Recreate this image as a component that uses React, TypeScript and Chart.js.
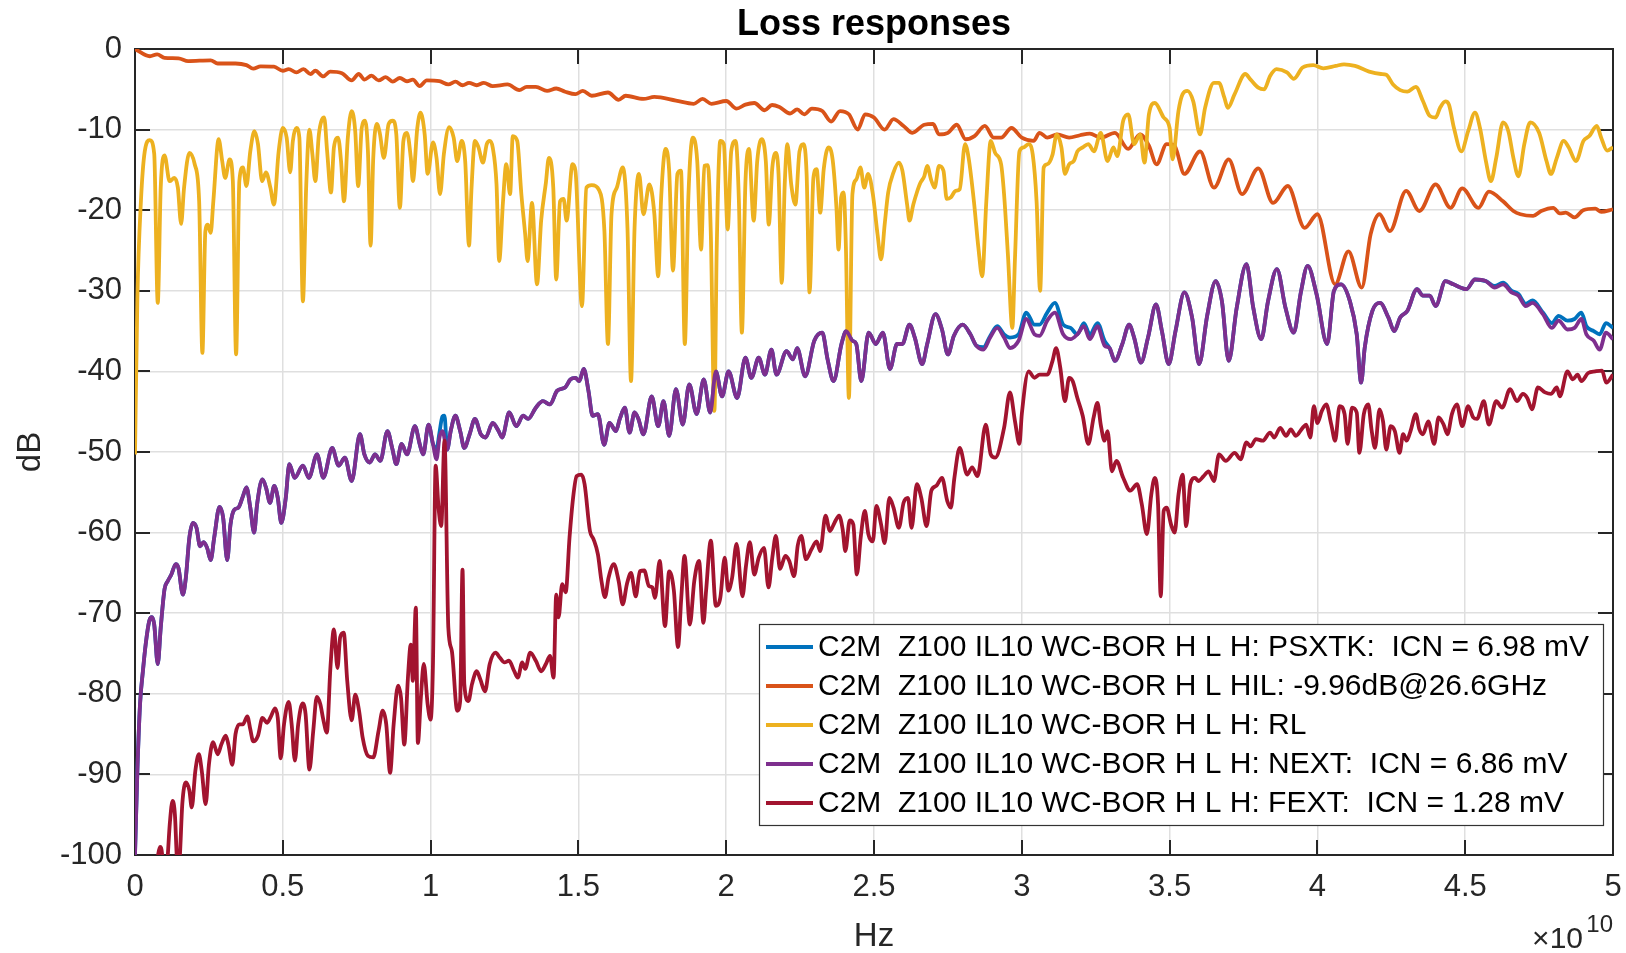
import React, { useEffect, useRef } from "react";
import { Chart, registerables } from "chart.js";

Chart.register(...registerables);

// x values are in units of 1e10 Hz, y values in dB
const xTicks = [0, 0.5, 1, 1.5, 2, 2.5, 3, 3.5, 4, 4.5, 5];
const yTicks = [-100, -90, -80, -70, -60, -50, -40, -30, -20, -10, 0];

const seriesLabels = [
  "C2M  Z100 IL10 WC-BOR H L H: PSXTK:  ICN = 6.98 mV",
  "C2M  Z100 IL10 WC-BOR H L HIL: -9.96dB@26.6GHz",
  "C2M  Z100 IL10 WC-BOR H L H: RL",
  "C2M  Z100 IL10 WC-BOR H L H: NEXT:  ICN = 6.86 mV",
  "C2M  Z100 IL10 WC-BOR H L H: FEXT:  ICN = 1.28 mV",
];
const seriesColors = ["#0072BD", "#D95319", "#EDB120", "#7E2F8E", "#A2142F"];

const ilPoints: [number, number][] = [
  [0,0],[0.05,-0.9],[0.075,-0.66],[0.1,-1.1],[0.147,-1.16],[0.18,-1.5],[0.256,-1.4],[0.28,-1.8],[0.34,-1.8],[0.377,-2.0],[0.40,-2.44],[0.425,-2.15],[0.47,-2.2],[0.50,-2.7],[0.52,-2.5],[0.546,-2.9],[0.57,-2.5],[0.594,-3.1],[0.61,-2.7],[0.637,-3.4],[0.66,-2.8],[0.70,-3.0],[0.733,-3.9],[0.757,-3.1],[0.776,-3.8],[0.80,-3.3],[0.824,-3.9],[0.848,-3.5],[0.872,-4.05],[0.896,-3.6],[0.92,-4.0],[0.94,-3.8],[0.963,-4.6],[0.987,-3.9],[1.03,-4.0],[1.06,-4.4],[1.084,-4.05],[1.108,-4.5],[1.13,-4.2],[1.156,-4.5],[1.18,-4.2],[1.21,-4.6],[1.26,-4.4],[1.30,-5.1],[1.325,-4.7],[1.356,-4.7],[1.394,-5.2],[1.425,-4.9],[1.455,-5.3],[1.49,-5.6],[1.515,-5.2],[1.545,-5.8],[1.60,-5.4],[1.636,-6.3],[1.66,-5.8],[1.72,-6.2],[1.757,-5.95],[1.83,-6.4],[1.89,-6.8],[1.92,-6.2],[1.95,-6.8],[2.0,-6.45],[2.035,-7.4],[2.065,-6.9],[2.095,-6.7],[2.13,-7.6],[2.155,-6.95],[2.18,-7.2],[2.216,-8.0],[2.24,-7.5],[2.264,-8.1],[2.29,-7.4],[2.325,-7.7],[2.355,-9.0],[2.385,-7.7],[2.415,-8.1],[2.445,-10.0],[2.47,-8.1],[2.50,-8.5],[2.536,-10.0],[2.566,-8.7],[2.6,-9.55],[2.63,-10.4],[2.67,-9.4],[2.70,-9.3],[2.72,-10.6],[2.75,-10.4],[2.78,-9.4],[2.81,-11.2],[2.84,-10.8],[2.875,-9.55],[2.905,-11.0],[2.93,-11.0],[2.965,-9.8],[3.0,-11.0],[3.04,-11.4],[3.06,-10.4],[3.086,-11.0],[3.12,-10.6],[3.16,-11.0],[3.197,-10.7],[3.23,-10.5],[3.267,-11.0],[3.315,-10.4],[3.36,-12.4],[3.40,-10.6],[3.43,-12.0],[3.456,-14.3],[3.49,-11.8],[3.515,-11.9],[3.55,-15.5],[3.603,-12.7],[3.65,-17.2],[3.70,-13.7],[3.745,-18.0],[3.80,-14.8],[3.85,-19.1],[3.90,-17.0],[3.957,-22.2],[4.0,-20.5],[4.06,-29.2],[4.105,-25.1],[4.15,-29.6],[4.18,-23.0],[4.21,-20.5],[4.245,-22.6],[4.30,-17.6],[4.345,-20.1],[4.40,-16.8],[4.45,-19.7],[4.49,-17.3],[4.545,-19.7],[4.58,-17.7],[4.628,-18.9],[4.663,-20.1],[4.687,-20.5],[4.73,-20.7],[4.757,-20.1],[4.798,-19.7],[4.82,-20.4],[4.84,-20.3],[4.87,-20.9],[4.899,-20.0],[4.94,-19.8],[4.96,-20.2],[5.0,-19.9],
];

const rlPoints: [number, number][] = [
  [0,-50.3],[0.008,-31],[0.02,-18.9],[0.033,-12.7],[0.05,-11.3],[0.065,-13],[0.077,-31.5],[0.087,-17.2],[0.10,-13.2],[0.117,-16.4],[0.133,-16.0],[0.145,-17.2],[0.156,-21.7],[0.166,-17.2],[0.184,-12.9],[0.202,-14.3],[0.217,-18.9],[0.228,-37.7],[0.238,-22.6],[0.246,-21.8],[0.256,-22.8],[0.265,-18.9],[0.283,-11.2],[0.295,-13.9],[0.305,-16],[0.32,-13.7],[0.331,-16.4],[0.342,-37.9],[0.353,-16.4],[0.365,-14.7],[0.377,-17],[0.39,-12.7],[0.404,-10.2],[0.416,-11.8],[0.43,-16.4],[0.443,-15.3],[0.458,-17.2],[0.47,-19.3],[0.486,-12.7],[0.50,-9.8],[0.513,-11],[0.525,-15.3],[0.534,-11.4],[0.546,-9.8],[0.556,-11],[0.568,-31.3],[0.579,-17.2],[0.59,-10],[0.60,-13],[0.61,-16.4],[0.622,-10.6],[0.64,-8.5],[0.65,-12.7],[0.663,-17.8],[0.673,-12.2],[0.687,-11],[0.697,-13.9],[0.707,-18.9],[0.72,-11],[0.733,-7.7],[0.745,-10.2],[0.755,-17],[0.767,-9.8],[0.778,-8.9],[0.788,-12.7],[0.797,-24.4],[0.806,-13.5],[0.818,-9.3],[0.828,-10.4],[0.842,-13.5],[0.858,-9.3],[0.872,-8.9],[0.884,-10.6],[0.896,-19.7],[0.908,-11.4],[0.92,-10.4],[0.933,-13.5],[0.94,-16.4],[0.955,-9.8],[0.966,-7.9],[0.98,-10.6],[0.99,-15.5],[1.008,-11.6],[1.02,-13.5],[1.032,-18],[1.045,-13],[1.063,-9.7],[1.078,-11],[1.09,-13.9],[1.105,-11.4],[1.117,-13.9],[1.13,-24.4],[1.138,-17.6],[1.15,-11.4],[1.162,-12.2],[1.177,-14.1],[1.19,-11.8],[1.2,-11.4],[1.21,-12.2],[1.223,-16.8],[1.232,-26.3],[1.245,-18.9],[1.256,-14.3],[1.269,-18],[1.278,-10.8],[1.293,-11.4],[1.307,-18],[1.32,-23],[1.328,-26.3],[1.343,-19.1],[1.36,-29.2],[1.374,-21.3],[1.39,-16.6],[1.40,-13.5],[1.415,-17.2],[1.425,-28.6],[1.438,-18.9],[1.45,-18.6],[1.46,-21.3],[1.48,-14.3],[1.49,-15.1],[1.512,-31.9],[1.527,-17.2],[1.545,-16.9],[1.57,-17.5],[1.588,-22.6],[1.60,-36.6],[1.612,-20.5],[1.63,-17.2],[1.65,-14.7],[1.666,-22.2],[1.678,-41.2],[1.69,-22.2],[1.705,-15.5],[1.72,-20.5],[1.74,-16.8],[1.757,-20.5],[1.77,-28.2],[1.78,-18.4],[1.795,-12.4],[1.807,-15.1],[1.82,-27.5],[1.835,-15.5],[1.847,-15.1],[1.86,-36.6],[1.872,-18.4],[1.887,-11],[1.902,-13.9],[1.915,-24.9],[1.926,-14.5],[1.938,-14.4],[1.948,-23],[1.96,-44.9],[1.968,-24.6],[1.98,-11.4],[1.992,-11.8],[2.005,-22.4],[2.017,-12.7],[2.032,-11.4],[2.043,-18.9],[2.053,-35.2],[2.065,-16.6],[2.077,-12.4],[2.093,-21.3],[2.105,-13.9],[2.12,-11.2],[2.134,-13.9],[2.144,-21.8],[2.156,-14.7],[2.168,-12.9],[2.177,-15.5],[2.188,-29],[2.198,-16.8],[2.207,-11.8],[2.22,-16.8],[2.234,-19.3],[2.248,-12.7],[2.262,-11.8],[2.272,-15.5],[2.282,-30.2],[2.295,-16],[2.306,-14.9],[2.318,-20.3],[2.33,-14.9],[2.346,-12.2],[2.36,-13.7],[2.373,-19.7],[2.38,-24.9],[2.389,-18.4],[2.397,-17.8],[2.405,-24.6],[2.415,-43.3],[2.427,-18],[2.44,-16.2],[2.454,-14.7],[2.467,-17.2],[2.48,-15.5],[2.496,-18],[2.512,-23],[2.524,-26.1],[2.536,-21.8],[2.548,-17.8],[2.566,-15.3],[2.584,-14.1],[2.596,-15.1],[2.612,-19.3],[2.62,-21.3],[2.633,-19.3],[2.645,-17.8],[2.657,-16.6],[2.67,-15.8],[2.68,-14.5],[2.693,-16.2],[2.705,-17.2],[2.72,-14.5],[2.735,-15.1],[2.746,-18.6],[2.76,-18.4],[2.776,-17.6],[2.79,-17.4],[2.808,-11.8],[2.82,-13.5],[2.838,-18.9],[2.853,-24.6],[2.866,-28.2],[2.88,-18.9],[2.895,-11.4],[2.91,-12.9],[2.93,-14.3],[2.94,-18],[2.953,-25.5],[2.968,-34.6],[2.977,-25.9],[2.992,-12.7],[3.007,-12.2],[3.023,-11.8],[3.037,-13.1],[3.05,-18.9],[3.062,-30],[3.074,-14.7],[3.086,-14.3],[3.104,-13.1],[3.118,-10.6],[3.134,-12.2],[3.146,-15.5],[3.16,-14.3],[3.176,-13.9],[3.188,-12.7],[3.206,-12.2],[3.225,-11.8],[3.244,-12.7],[3.267,-10.4],[3.29,-13.9],[3.31,-12.2],[3.323,-13.3],[3.343,-8.9],[3.36,-8.1],[3.38,-11.8],[3.40,-10.6],[3.415,-14.1],[3.43,-8.1],[3.45,-6.7],[3.48,-8.5],[3.50,-9.8],[3.51,-13.7],[3.53,-7.7],[3.544,-5.6],[3.56,-5.2],[3.58,-6.5],[3.603,-10.6],[3.62,-7.3],[3.65,-4.2],[3.667,-4.2],[3.685,-6],[3.697,-7.3],[3.72,-5.6],[3.756,-3.1],[3.774,-3.8],[3.80,-4.8],[3.82,-5.0],[3.84,-3.35],[3.862,-2.5],[3.897,-2.9],[3.92,-3.7],[3.95,-2.3],[3.986,-2.0],[4.02,-2.4],[4.062,-2.1],[4.09,-1.9],[4.127,-2.1],[4.175,-2.8],[4.215,-3.1],[4.233,-3.2],[4.256,-4.4],[4.28,-5.1],[4.304,-5.3],[4.333,-4.7],[4.357,-6.45],[4.38,-8.3],[4.4,-8.5],[4.415,-7.3],[4.433,-6.5],[4.445,-6.9],[4.462,-9.8],[4.487,-12.7],[4.51,-10.2],[4.533,-7.9],[4.55,-9.8],[4.57,-13.9],[4.587,-16.4],[4.605,-13.5],[4.628,-9.1],[4.646,-10.2],[4.663,-13.5],[4.68,-15.8],[4.70,-11.8],[4.72,-9.1],[4.75,-10.4],[4.775,-13.9],[4.79,-15.5],[4.81,-13.5],[4.833,-11.4],[4.85,-12.2],[4.875,-13.9],[4.90,-11.4],[4.92,-10.8],[4.945,-9.55],[4.96,-11],[4.98,-12.6],[5.0,-12.2],
];

const nextPoints: [number, number][] = [
  [0,-100],[0.008,-89.6],[0.017,-81.3],[0.027,-77.1],[0.036,-73.9],[0.048,-71],[0.057,-70.5],[0.065,-71.4],[0.077,-76.3],[0.087,-71.8],[0.10,-67],[0.111,-66],[0.123,-65.2],[0.138,-63.9],[0.147,-64.4],[0.162,-67.7],[0.172,-65.6],[0.184,-60.6],[0.196,-58.8],[0.208,-59.4],[0.22,-61.7],[0.232,-61.2],[0.244,-61.9],[0.256,-63.4],[0.268,-60.6],[0.286,-56.8],[0.298,-58.1],[0.312,-63.4],[0.323,-59],[0.335,-57.2],[0.35,-56.9],[0.365,-55.5],[0.377,-54.4],[0.39,-56.9],[0.403,-60],[0.413,-56.5],[0.431,-53.4],[0.443,-54.4],[0.457,-56.3],[0.471,-54.2],[0.483,-55.7],[0.495,-58.8],[0.51,-55.7],[0.522,-51.5],[0.54,-53.2],[0.568,-51.7],[0.588,-53.2],[0.616,-50.3],[0.637,-53.2],[0.667,-49.5],[0.689,-51.7],[0.71,-50.7],[0.733,-53.6],[0.761,-47.8],[0.776,-50.3],[0.794,-51.3],[0.812,-50.3],[0.83,-51.1],[0.854,-47.4],[0.87,-49.5],[0.884,-51.5],[0.902,-49],[0.92,-50.3],[0.947,-46.8],[0.963,-49],[0.975,-50.3],[0.993,-46.6],[1.008,-49],[1.02,-50.9],[1.03,-48.2],[1.04,-47.4],[1.056,-49.7],[1.068,-47.4],[1.084,-45.5],[1.1,-47.4],[1.114,-49.5],[1.132,-47.8],[1.15,-45.9],[1.17,-47.8],[1.186,-48.2],[1.21,-46.4],[1.23,-47.4],[1.242,-48.2],[1.266,-45.1],[1.29,-46.8],[1.313,-45.5],[1.33,-45.9],[1.356,-44.5],[1.38,-43.7],[1.404,-44.1],[1.428,-42.4],[1.455,-42],[1.473,-41],[1.49,-40.8],[1.503,-41.2],[1.518,-39.7],[1.534,-42.4],[1.548,-45.5],[1.566,-45.3],[1.587,-49.1],[1.605,-46.4],[1.627,-47.4],[1.64,-45.9],[1.657,-44.5],[1.673,-47.6],[1.69,-45.1],[1.703,-45.9],[1.72,-47.8],[1.748,-43.1],[1.77,-46.8],[1.788,-43.7],[1.807,-48],[1.83,-42.2],[1.853,-46.6],[1.875,-41.6],[1.9,-45.3],[1.924,-41],[1.946,-45.1],[1.965,-40],[1.986,-43.1],[2.008,-40],[2.037,-43.3],[2.065,-38.3],[2.085,-40.8],[2.11,-38.3],[2.131,-40.4],[2.153,-37.3],[2.17,-40.4],[2.204,-37.5],[2.226,-38.5],[2.24,-37.1],[2.267,-40.6],[2.298,-36.2],[2.325,-35.2],[2.343,-38.5],[2.363,-41.2],[2.39,-36.6],[2.406,-35],[2.427,-36.2],[2.44,-36.6],[2.457,-41.2],[2.482,-35.2],[2.506,-36.6],[2.53,-35.2],[2.554,-39.7],[2.578,-36.6],[2.596,-36.6],[2.62,-34.2],[2.638,-35.8],[2.663,-39.1],[2.68,-36.6],[2.708,-32.9],[2.73,-34.8],[2.75,-37.9],[2.77,-35.6],[2.8,-34.2],[2.826,-35.4],[2.846,-36.8],[2.87,-37.3],[2.893,-35.8],[2.917,-34.6],[2.94,-35.8],[2.96,-37.1],[2.989,-36.2],[3.015,-33.5],[3.043,-35.4],[3.06,-35.6],[3.086,-33.7],[3.112,-32.7],[3.14,-35.4],[3.165,-36],[3.188,-35.4],[3.21,-34.4],[3.23,-36],[3.256,-34.4],[3.28,-36.8],[3.297,-37.1],[3.315,-38.7],[3.34,-36.6],[3.363,-34.2],[3.38,-35.8],[3.403,-38.9],[3.427,-35.8],[3.454,-31.7],[3.474,-35],[3.497,-39.1],[3.52,-35],[3.55,-30.2],[3.576,-33.3],[3.6,-39.1],[3.627,-33.1],[3.656,-28.8],[3.677,-31.3],[3.7,-38.7],[3.727,-32.1],[3.76,-26.7],[3.783,-32.1],[3.81,-36],[3.833,-31.3],[3.863,-27.3],[3.892,-32.1],[3.92,-35.2],[3.944,-30.2],[3.967,-26.9],[3.997,-30.4],[4.033,-36.6],[4.056,-30],[4.08,-29.2],[4.11,-31.3],[4.133,-35.4],[4.148,-41.4],[4.16,-37.1],[4.186,-32.5],[4.212,-31.5],[4.24,-33.3],[4.26,-35],[4.28,-33.3],[4.304,-32.5],[4.337,-29.8],[4.357,-30.6],[4.38,-30.6],[4.4,-31.9],[4.433,-28.8],[4.46,-29.2],[4.504,-29.8],[4.533,-28.6],[4.57,-28.8],[4.6,-29.6],[4.628,-29.2],[4.657,-30.2],[4.68,-30.6],[4.705,-31.9],[4.728,-31.5],[4.763,-32.9],[4.793,-34.6],[4.816,-33.7],[4.846,-34.8],[4.87,-34.6],[4.893,-33.5],[4.91,-35.4],[4.935,-36.2],[4.955,-37.3],[4.976,-35.2],[5.0,-36],
];

const psxtkPoints: [number, number][] = [
  [0,-100],[0.008,-89.6],[0.017,-81.3],[0.027,-77.1],[0.036,-73.9],[0.048,-71],[0.057,-70.5],[0.065,-71.4],[0.077,-76.3],[0.087,-71.8],[0.10,-67],[0.111,-66],[0.123,-65.2],[0.138,-63.9],[0.147,-64.4],[0.162,-67.7],[0.172,-65.6],[0.184,-60.6],[0.196,-58.8],[0.208,-59.4],[0.22,-61.7],[0.232,-61.2],[0.244,-61.9],[0.256,-63.4],[0.268,-60.6],[0.286,-56.8],[0.298,-58.1],[0.312,-63.4],[0.323,-59],[0.335,-57.2],[0.35,-56.9],[0.365,-55.5],[0.377,-54.4],[0.39,-56.9],[0.403,-60],[0.413,-56.5],[0.431,-53.4],[0.443,-54.4],[0.457,-56.3],[0.471,-54.2],[0.483,-55.7],[0.495,-58.8],[0.51,-55.7],[0.522,-51.5],[0.54,-53.2],[0.568,-51.7],[0.588,-53.2],[0.616,-50.3],[0.637,-53.2],[0.667,-49.5],[0.689,-51.7],[0.71,-50.7],[0.733,-53.6],[0.761,-47.8],[0.776,-50.3],[0.794,-51.3],[0.812,-50.3],[0.83,-51.1],[0.854,-47.4],[0.87,-49.5],[0.884,-51.5],[0.902,-49],[0.92,-50.3],[0.947,-46.8],[0.963,-49],[0.975,-50.3],[0.993,-46.6],[1.008,-49],[1.02,-49.6],[1.03,-47.6],[1.04,-45.6],[1.047,-45.5],[1.056,-49.7],[1.068,-47.4],[1.084,-45.5],[1.1,-47.4],[1.114,-49.5],[1.132,-47.8],[1.15,-45.9],[1.17,-47.8],[1.186,-48.2],[1.21,-46.4],[1.23,-47.4],[1.242,-48.2],[1.266,-45.1],[1.29,-46.8],[1.313,-45.5],[1.33,-45.9],[1.356,-44.5],[1.38,-43.7],[1.404,-44.1],[1.428,-42.4],[1.455,-42],[1.473,-41],[1.49,-40.8],[1.503,-41.2],[1.518,-39.7],[1.534,-42.4],[1.548,-45.5],[1.566,-45.3],[1.587,-49.1],[1.605,-46.4],[1.627,-47.4],[1.64,-45.9],[1.657,-44.5],[1.673,-47.6],[1.69,-45.1],[1.703,-45.9],[1.72,-47.8],[1.748,-43.1],[1.77,-46.8],[1.788,-43.7],[1.807,-48],[1.83,-42.2],[1.853,-46.6],[1.875,-41.6],[1.9,-45.3],[1.924,-41],[1.946,-45.1],[1.965,-40],[1.986,-43.1],[2.008,-40],[2.037,-43.3],[2.065,-38.3],[2.085,-40.8],[2.11,-38.3],[2.131,-40.4],[2.153,-37.3],[2.17,-40.4],[2.204,-37.5],[2.226,-38.5],[2.24,-37.1],[2.267,-40.6],[2.298,-36.2],[2.325,-35.2],[2.343,-38.5],[2.363,-41.2],[2.39,-36.6],[2.406,-35],[2.427,-36.2],[2.44,-36.6],[2.457,-41.2],[2.482,-35.2],[2.506,-36.6],[2.53,-35.2],[2.554,-39.7],[2.578,-36.6],[2.596,-36.6],[2.62,-34.2],[2.638,-35.8],[2.663,-39.1],[2.68,-36.6],[2.708,-32.9],[2.73,-34.8],[2.75,-37.9],[2.77,-35.6],[2.8,-34.2],[2.826,-35.4],[2.846,-36.8],[2.87,-37.0],[2.893,-35.6],[2.917,-34.4],[2.94,-35.4],[2.96,-35.8],[2.989,-35.4],[3.015,-32.7],[3.043,-34.2],[3.06,-34.2],[3.086,-32.7],[3.112,-31.5],[3.14,-34.2],[3.165,-34.6],[3.188,-35.4],[3.21,-34.0],[3.23,-35.4],[3.256,-34.0],[3.28,-36.2],[3.297,-37.1],[3.315,-38.7],[3.34,-36.6],[3.363,-34.2],[3.38,-35.8],[3.403,-38.9],[3.427,-35.8],[3.454,-31.7],[3.474,-35],[3.497,-39.1],[3.52,-35],[3.55,-30.2],[3.576,-33.3],[3.6,-39.1],[3.627,-33.1],[3.656,-28.8],[3.677,-31.3],[3.7,-38.7],[3.727,-32.1],[3.76,-26.7],[3.783,-32.1],[3.81,-36],[3.833,-31.3],[3.863,-27.3],[3.892,-32.1],[3.92,-35.2],[3.944,-30.2],[3.967,-26.9],[3.997,-30.4],[4.033,-36.6],[4.056,-30],[4.08,-29.2],[4.11,-31.3],[4.133,-35.4],[4.148,-41.4],[4.16,-37.1],[4.186,-32.5],[4.212,-31.5],[4.24,-33.3],[4.26,-35],[4.28,-33.3],[4.304,-32.5],[4.337,-29.8],[4.357,-30.6],[4.38,-30.6],[4.4,-31.9],[4.433,-28.8],[4.46,-29.2],[4.504,-29.8],[4.533,-28.6],[4.57,-28.8],[4.6,-29.4],[4.628,-29.0],[4.657,-30.0],[4.68,-30.4],[4.705,-31.6],[4.728,-31.2],[4.763,-32.7],[4.793,-34.0],[4.816,-33.1],[4.846,-33.7],[4.87,-33.5],[4.893,-32.7],[4.91,-34.4],[4.935,-35.0],[4.955,-35.4],[4.976,-34.0],[5.0,-34.6],
];

const fextPoints: [number, number][] = [
  [0.07,-103],[0.078,-100],[0.085,-99],[0.092,-100],[0.098,-104],[0.109,-101],[0.118,-96],[0.127,-93.3],[0.135,-95],[0.141,-100],[0.146,-103],[0.152,-100],[0.16,-93.7],[0.172,-91],[0.184,-92],[0.192,-94.1],[0.204,-89.6],[0.216,-87.5],[0.226,-89.6],[0.239,-93.7],[0.25,-88.8],[0.264,-86],[0.28,-87.5],[0.292,-86.3],[0.307,-85.2],[0.316,-86.3],[0.329,-88.8],[0.34,-85],[0.353,-83.8],[0.365,-83.8],[0.38,-82.8],[0.39,-84.4],[0.40,-85.9],[0.416,-85.2],[0.431,-83],[0.447,-83.6],[0.46,-82.8],[0.474,-81.8],[0.483,-83],[0.493,-88],[0.504,-83.8],[0.52,-81],[0.53,-83.8],[0.541,-88.3],[0.552,-83.8],[0.567,-81.2],[0.577,-82.5],[0.59,-89.4],[0.603,-84.6],[0.615,-80.4],[0.627,-81.3],[0.637,-83.2],[0.649,-84.8],[0.661,-76.8],[0.673,-72],[0.685,-76.8],[0.694,-73],[0.706,-72.4],[0.718,-78.4],[0.733,-83.3],[0.745,-80.1],[0.758,-82.1],[0.77,-85.4],[0.788,-87.7],[0.806,-87.9],[0.824,-84.6],[0.838,-82.1],[0.85,-83.8],[0.863,-89.8],[0.875,-83.8],[0.89,-79],[0.9,-80.5],[0.911,-86.3],[0.923,-78.2],[0.933,-73.9],[0.94,-78.4],[0.95,-69.3],[0.957,-86.1],[0.967,-80.5],[0.977,-76.3],[0.99,-81.3],[1.0,-83.2],[1.008,-76.3],[1.017,-51.7],[1.027,-57],[1.036,-59.2],[1.047,-48.6],[1.06,-71.8],[1.072,-74.7],[1.09,-82.1],[1.1,-80.9],[1.108,-64.6],[1.114,-78.8],[1.128,-80.9],[1.14,-78.8],[1.156,-77.2],[1.168,-78.2],[1.184,-79.7],[1.2,-76.3],[1.22,-74.9],[1.234,-75.5],[1.25,-76.1],[1.265,-75.9],[1.283,-77.2],[1.295,-78],[1.31,-76.1],[1.32,-76.9],[1.337,-74.9],[1.356,-75.9],[1.374,-77.2],[1.39,-76.3],[1.404,-75.3],[1.416,-78],[1.425,-67.7],[1.433,-70.5],[1.445,-66.4],[1.457,-67.4],[1.47,-60.6],[1.482,-55.7],[1.494,-53],[1.51,-52.8],[1.521,-54],[1.539,-59.8],[1.551,-60.8],[1.566,-62.7],[1.578,-66],[1.59,-68],[1.602,-65.6],[1.62,-63.9],[1.636,-66],[1.65,-68.9],[1.664,-66.4],[1.678,-65],[1.694,-67.9],[1.708,-64.8],[1.723,-64.7],[1.738,-66.6],[1.75,-66.8],[1.759,-68.1],[1.775,-63.5],[1.793,-71.6],[1.807,-64.8],[1.823,-67.2],[1.837,-74.2],[1.848,-68.1],[1.859,-62.9],[1.877,-71.4],[1.892,-66],[1.908,-63.5],[1.923,-71.2],[1.932,-67.2],[1.948,-61],[1.965,-69.1],[1.98,-68.1],[1.995,-63.1],[2.007,-67.2],[2.02,-65.6],[2.035,-61.4],[2.055,-67.9],[2.067,-64.1],[2.08,-61.2],[2.095,-65.2],[2.11,-63.1],[2.128,-61.9],[2.143,-66.8],[2.156,-63.1],[2.168,-60.4],[2.182,-64.5],[2.2,-62.9],[2.213,-63.5],[2.23,-65.4],[2.242,-61.6],[2.254,-60.4],[2.27,-63.3],[2.288,-62.1],[2.306,-61.1],[2.318,-62.3],[2.336,-57.9],[2.351,-59.8],[2.366,-58.8],[2.382,-57.9],[2.394,-59.6],[2.403,-62.3],[2.418,-58.5],[2.43,-59],[2.442,-65.2],[2.455,-60.6],[2.469,-57.3],[2.481,-60.2],[2.496,-61.1],[2.508,-56.7],[2.524,-59],[2.536,-61.3],[2.552,-55.7],[2.566,-56.9],[2.584,-59.4],[2.6,-56.3],[2.615,-55.7],[2.627,-59.4],[2.645,-54],[2.66,-55.7],[2.678,-59.2],[2.694,-54.8],[2.711,-54.2],[2.73,-53.2],[2.748,-56.1],[2.76,-56.9],[2.772,-53.2],[2.79,-49.5],[2.815,-52.8],[2.832,-51.9],[2.85,-53],[2.878,-46.6],[2.895,-50.3],[2.91,-50.7],[2.94,-47],[2.96,-42.6],[2.977,-46.2],[2.992,-49],[3.0,-45.3],[3.023,-40],[3.043,-40.8],[3.06,-40.4],[3.086,-40.4],[3.104,-38.7],[3.116,-37.1],[3.13,-39.5],[3.146,-43.7],[3.16,-40.8],[3.172,-41.2],[3.188,-43.3],[3.206,-45.5],[3.225,-49],[3.243,-45.7],[3.256,-43.9],[3.267,-46.6],[3.28,-48.6],[3.29,-47.4],[3.305,-52.4],[3.32,-51.1],[3.343,-53.2],[3.367,-54.8],[3.39,-54],[3.406,-56.5],[3.423,-60.2],[3.438,-55.3],[3.45,-53.2],[3.461,-56.5],[3.47,-67.9],[3.48,-57.3],[3.49,-56.9],[3.505,-59],[3.517,-60],[3.53,-55.3],[3.544,-52.8],[3.556,-59.2],[3.57,-54],[3.586,-53.2],[3.597,-53.6],[3.615,-53],[3.632,-52.4],[3.65,-53.6],[3.667,-50.3],[3.69,-51.1],[3.72,-50.1],[3.74,-50.9],[3.76,-48.8],[3.774,-49.3],[3.792,-48.4],[3.815,-48.6],[3.84,-47.6],[3.854,-48.2],[3.874,-47],[3.894,-48],[3.91,-47.2],[3.927,-48],[3.95,-47],[3.962,-46.6],[3.976,-48.2],[3.988,-44.3],[4.0,-46.4],[4.015,-44.9],[4.03,-44.1],[4.047,-46.6],[4.06,-48.6],[4.075,-44.3],[4.092,-45.3],[4.102,-49],[4.117,-44.5],[4.133,-45.1],[4.142,-50.1],[4.157,-45.3],[4.172,-44.1],[4.183,-47.2],[4.195,-49.5],[4.21,-44.7],[4.222,-46.2],[4.233,-49.7],[4.248,-46.8],[4.262,-47.4],[4.278,-50.1],[4.29,-47.8],[4.302,-48.6],[4.315,-47.4],[4.333,-45.3],[4.345,-47.2],[4.357,-47.8],[4.375,-46.2],[4.395,-49],[4.41,-45.7],[4.427,-46.6],[4.44,-47.8],[4.455,-45.3],[4.472,-44.1],[4.49,-46.8],[4.51,-44.3],[4.527,-45.7],[4.54,-45.9],[4.563,-43.7],[4.58,-46.6],[4.605,-43.7],[4.625,-44.5],[4.652,-42.2],[4.675,-43.7],[4.695,-42.8],[4.71,-43.3],[4.726,-44.7],[4.746,-42],[4.77,-42.6],[4.79,-42.8],[4.81,-42],[4.82,-43.1],[4.846,-40],[4.864,-41],[4.88,-40.4],[4.893,-41.2],[4.916,-40.2],[4.94,-40],[4.963,-39.9],[4.977,-41.4],[5.0,-40.4],
];

const seriesPoints = [psxtkPoints, ilPoints, rlPoints, nextPoints, fextPoints];
// MATLAB stacking: later series on top
const seriesOrder = [5, 4, 3, 2, 1];

const FONT = "'Liberation Sans', Arial, Helvetica, sans-serif";
const AXIS_COLOR = "#262626";

const framePlugin = {
  id: "matlabFrame",
  beforeDatasetsDraw(chart: any) {
    const { ctx, chartArea, scales } = chart;
    const { left, right, top, bottom } = chartArea;
    const tick = 15;
    ctx.save();
    ctx.strokeStyle = AXIS_COLOR;
    ctx.lineWidth = 2;
    ctx.strokeRect(left, top, right - left, bottom - top);
    ctx.beginPath();
    xTicks.forEach((v) => {
      const px = Math.round(scales.x.getPixelForValue(v));
      ctx.moveTo(px, bottom);
      ctx.lineTo(px, bottom - tick);
      ctx.moveTo(px, top);
      ctx.lineTo(px, top + tick);
    });
    yTicks.forEach((v) => {
      const py = Math.round(scales.y.getPixelForValue(v));
      ctx.moveTo(left, py);
      ctx.lineTo(left + tick, py);
      ctx.moveTo(right, py);
      ctx.lineTo(right - tick, py);
    });
    ctx.stroke();
    ctx.restore();
  },
  afterDatasetsDraw(chart: any) {
    const { ctx } = chart;
    const boxL = 759, boxT = 624, boxR = 1604, boxB = 826;
    ctx.save();
    ctx.fillStyle = "#ffffff";
    ctx.fillRect(boxL, boxT, boxR - boxL, boxB - boxT);
    ctx.strokeStyle = "#333333";
    ctx.lineWidth = 1.2;
    ctx.strokeRect(boxL + 0.5, boxT + 0.5, boxR - boxL - 1, boxB - boxT - 1);
    ctx.font = `30px ${FONT}`;
    ctx.textBaseline = "middle";
    ctx.textAlign = "left";
    seriesLabels.forEach((label, i) => {
      const cy = 647 + i * 39;
      ctx.strokeStyle = seriesColors[i];
      ctx.lineWidth = 3.8;
      ctx.beginPath();
      ctx.moveTo(766, cy);
      ctx.lineTo(813, cy);
      ctx.stroke();
      ctx.fillStyle = "#000000";
      ctx.fillText(label, 818, cy + 1);
    });
    ctx.restore();
  },
  afterDraw(chart: any) {
    const { ctx, chartArea } = chart;
    ctx.save();
    ctx.fillStyle = "#000000";
    ctx.font = `bold 36px ${FONT}`;
    ctx.textAlign = "center";
    ctx.textBaseline = "alphabetic";
    ctx.fillText("Loss responses", (chartArea.left + chartArea.right) / 2, 35);
    ctx.fillStyle = AXIS_COLOR;
    ctx.font = `30px ${FONT}`;
    ctx.textAlign = "right";
    ctx.fillText("\u00d710", 1583, 948);
    ctx.font = `24px ${FONT}`;
    ctx.textAlign = "right";
    ctx.fillText("10", 1613, 932);
    ctx.restore();
  },
};

export default function App() {
  const ref = useRef<HTMLCanvasElement | null>(null);
  useEffect(() => {
    const canvas = ref.current;
    if (!canvas) return;
    Chart.defaults.font.family = FONT;
    const chart = new Chart(canvas, {
      type: "line",
      data: {
        datasets: seriesLabels.map((label, i) => ({
          label,
          data: seriesPoints[i].map(([x, y]) => ({ x, y })),
          borderColor: seriesColors[i],
          backgroundColor: seriesColors[i],
          borderWidth: 3.8,
          pointRadius: 0,
          fill: false,
          cubicInterpolationMode: "monotone" as const,
          order: seriesOrder[i],
        })),
      },
      options: {
        animation: false,
        responsive: false,
        devicePixelRatio: 1,
        layout: { padding: { top: 49, right: 13, left: 0, bottom: 0 } },
        plugins: {
          legend: { display: false },
          tooltip: { enabled: false },
          title: { display: false },
        },
        scales: {
          x: {
            type: "linear",
            min: 0,
            max: 5,
            afterFit: (s: any) => {
              s.height = 98;
              s.paddingLeft = 0;
              s.paddingRight = 0;
            },
            ticks: {
              stepSize: 0.5,
              autoSkip: false,
              maxTicksLimit: 20,
              maxRotation: 0,
              padding: 14,
              color: AXIS_COLOR,
              font: { size: 31, family: FONT },
              callback: (v: any) => String(Math.round(Number(v) * 10) / 10),
            },
            grid: { color: "#dfdfdf", lineWidth: 1.5, drawTicks: false },
            border: { display: false },
            title: {
              display: true,
              text: "Hz",
              color: AXIS_COLOR,
              font: { size: 33, family: FONT, lineHeight: 1 },
              padding: { top: 0, bottom: 0 },
            },
          },
          y: {
            type: "linear",
            min: -100,
            max: 0,
            afterFit: (s: any) => {
              s.width = 135;
              s.paddingTop = 0;
              s.paddingBottom = 0;
            },
            ticks: {
              stepSize: 10,
              autoSkip: false,
              maxTicksLimit: 20,
              padding: 13,
              color: AXIS_COLOR,
              font: { size: 31, family: FONT },
              callback: (v: any) => String(Math.round(Number(v))),
            },
            grid: { color: "#dfdfdf", lineWidth: 1.5, drawTicks: false },
            border: { display: false },
            title: {
              display: true,
              text: "dB",
              color: AXIS_COLOR,
              font: { size: 33, family: FONT, lineHeight: 1 },
              padding: { top: 14, bottom: 0 },
            },
          },
        },
      },
      plugins: [framePlugin],
    });
    return () => chart.destroy();
  }, []);
  return (
    <div style={{ position: "absolute", left: 0, top: 0, width: 1626, height: 953, background: "#ffffff" }}>
      <canvas ref={ref} width={1626} height={953} style={{ display: "block", width: 1626, height: 953 }} />
    </div>
  );
}
